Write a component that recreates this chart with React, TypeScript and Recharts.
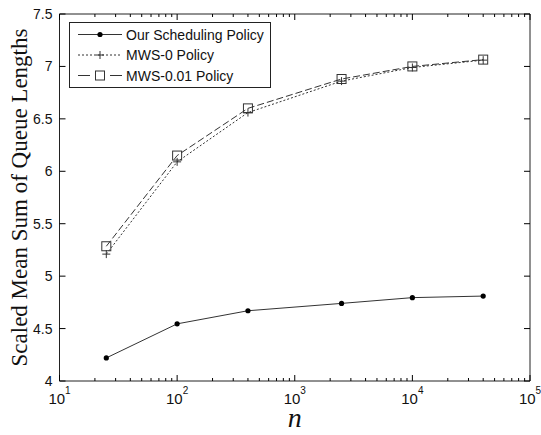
import { LineChart, Line, XAxis, YAxis, Legend, ReferenceArea } from 'recharts'

const nValues = [25, 100, 400, 2500, 10000, 40000]
const ourPolicy = [4.22, 4.545, 4.67, 4.74, 4.795, 4.81]
const mws0Policy = [5.21, 6.09, 6.56, 6.86, 6.99, 7.06]
const mws001Policy = [5.285, 6.15, 6.6, 6.88, 7.0, 7.065]

const decadeTicks = [10, 100, 1000, 10000, 100000]
const minorTicks = [10, 100, 1000, 10000].flatMap((d) => [2, 3, 4, 5, 6, 7, 8, 9].map((k) => d * k))
const xTicks = [...decadeTicks, ...minorTicks].sort((a, b) => a - b)
const yTicks = [4, 4.5, 5, 5.5, 6, 6.5, 7, 7.5]

const seriesNames = {
  our: 'Our Scheduling Policy',
  mws0: 'MWS-0 Policy',
  mws001: 'MWS-0.01 Policy',
}
const legendOrder = ['our', 'mws0', 'mws001']

const INK = '#222'
const LINE = '#333'
const SANS = '"Liberation Sans", Arial, sans-serif'
const SERIF = '"Liberation Serif", "Times New Roman", serif'
const X_DOMAIN = [10, 100000]
const Y_DOMAIN = [4, 7.5]

const data = nValues.map((n, i) => ({
  n,
  our: ourPolicy[i],
  mws0: mws0Policy[i],
  mws001: mws001Policy[i],
}))

// markers
const DotMark = ({ cx, cy }: any) => <circle cx={cx} cy={cy} r={2.6} fill="#000" />
const PlusMark = ({ cx, cy }: any) => (
  <g stroke={LINE} strokeWidth={1}>
    <line x1={cx - 4} x2={cx + 4} y1={cy} y2={cy} />
    <line x1={cx} x2={cx} y1={cy - 4} y2={cy + 4} />
  </g>
)
const SquareMark = ({ cx, cy }: any) => (
  <rect x={cx - 4.5} y={cy - 4.5} width={9} height={9} fill="none" stroke={LINE} strokeWidth={1} />
)

function DecadeLabel({ x, y, payload }: any) {
  return (
    <text x={x} y={y + 23} textAnchor="middle" fontFamily={SANS} fontSize={15} fill="#111">
      10
      <tspan dy={-10} fontSize={10}>
        {Math.round(Math.log10(payload.value))}
      </tspan>
    </text>
  )
}

function ValueLabel({ x, y, payload }: any) {
  return (
    <text x={x - 7} y={y} dy="0.36em" textAnchor="end" fontFamily={SANS} fontSize={14} fill="#111">
      {String(payload.value)}
    </text>
  )
}

// inward tick marks; x/y arrive on the frame edge because tickSize and tickMargin are 0
const tickLen = (v: number) => (decadeTicks.includes(v) ? 6 : 3)
const BottomMark = ({ x, y, payload }: any) => (
  <path d={`M${x},${y}V${y - tickLen(payload.value)}`} stroke="#000" strokeWidth={1} fill="none" />
)
const TopMark = ({ x, y, payload }: any) => (
  <path d={`M${x},${y}V${y + tickLen(payload.value)}`} stroke="#000" strokeWidth={1} fill="none" />
)
const LeftMark = ({ x, y }: any) => (
  <path d={`M${x},${y}H${x + 6}`} stroke="#000" strokeWidth={1} fill="none" />
)
const RightMark = ({ x, y }: any) => (
  <path d={`M${x},${y}H${x - 6}`} stroke="#000" strokeWidth={1} fill="none" />
)

function YTitle({ viewBox }: any) {
  const cy = viewBox.y + viewBox.height / 2
  return (
    <text
      transform={`translate(${viewBox.x + 27},${cy}) rotate(-90)`}
      textAnchor="middle"
      fontFamily={SERIF}
      fontSize={23}
      fill="#111"
    >
      Scaled Mean Sum of Queue Lengths
    </text>
  )
}

function XTitle({ viewBox }: any) {
  return (
    <text
      x={viewBox.x + viewBox.width / 2}
      y={viewBox.y + 46}
      textAnchor="middle"
      fontFamily={SERIF}
      fontStyle="italic"
      fontSize={28}
      fill="#111"
    >
      n
    </text>
  )
}

function LegendBox({ payload }: any) {
  const rows = [...(payload || [])].sort(
    (a: any, b: any) => legendOrder.indexOf(a.dataKey) - legendOrder.indexOf(b.dataKey)
  )
  return (
    <svg width={202} height={66} style={{ display: 'block' }}>
      <rect x={0.5} y={0.5} width={201} height={65} fill="#fff" stroke={INK} />
      {rows.map((entry: any, i: number) => {
        const cy = 12.5 + i * 20.5
        const key = entry.dataKey
        return (
          <g key={key}>
            {key === 'our' && (
              <>
                <line x1={9} x2={53} y1={cy} y2={cy} stroke={LINE} />
                <DotMark cx={31} cy={cy} />
              </>
            )}
            {key === 'mws0' && (
              <>
                <line x1={9} x2={53} y1={cy} y2={cy} stroke={LINE} strokeDasharray="2 2" />
                <PlusMark cx={31} cy={cy} />
              </>
            )}
            {key === 'mws001' && (
              <>
                <line x1={9} x2={21} y1={cy} y2={cy} stroke={LINE} />
                <line x1={41} x2={53} y1={cy} y2={cy} stroke={LINE} />
                <SquareMark cx={31} cy={cy} />
              </>
            )}
            <text x={57} y={cy} dy="0.36em" fontFamily={SANS} fontSize={14} fill="#111">
              {entry.value}
            </text>
          </g>
        )
      })}
    </svg>
  )
}

// mirrored axes sit inside the plot and take no room, one per side
const markAxis = {
  mirror: true,
  axisLine: false,
  tickLine: false,
  tickSize: 0,
  tickMargin: 0,
  interval: 0,
  allowDataOverflow: true,
  type: 'number' as const,
}

export default function App() {
  return (
    <div style={{ position: 'absolute', left: 0, top: 0, width: 541, height: 435, background: '#fff' }}>
      <LineChart width={541} height={435} data={data} margin={{ top: 14, right: 11, bottom: 0, left: 0 }}>
        <XAxis
          dataKey="n"
          type="number"
          scale="log"
          domain={X_DOMAIN}
          ticks={decadeTicks}
          interval={0}
          allowDataOverflow
          height={54}
          axisLine={false}
          tickLine={false}
          tickSize={0}
          tickMargin={0}
          tick={<DecadeLabel />}
          label={<XTitle />}
        />
        <YAxis
          type="number"
          domain={Y_DOMAIN}
          ticks={yTicks}
          interval={0}
          allowDataOverflow
          width={59.5}
          axisLine={false}
          tickLine={false}
          tickSize={0}
          tickMargin={0}
          tick={<ValueLabel />}
          label={<YTitle />}
        />
        <XAxis {...markAxis} xAxisId="bMarks" dataKey="n" scale="log" domain={X_DOMAIN} ticks={xTicks} height={8} tick={<BottomMark />} />
        <XAxis {...markAxis} xAxisId="tMarks" dataKey="n" scale="log" domain={X_DOMAIN} ticks={xTicks} orientation="top" height={8} tick={<TopMark />} />
        <YAxis {...markAxis} yAxisId="lMarks" domain={Y_DOMAIN} ticks={yTicks} width={8} tick={<LeftMark />} />
        <YAxis {...markAxis} yAxisId="rMarks" domain={Y_DOMAIN} ticks={yTicks} orientation="right" width={8} tick={<RightMark />} />
        {/* plot frame */}
        <ReferenceArea
          x1={10}
          x2={100000}
          y1={4}
          y2={7.5}
          fill="none"
          stroke={INK}
          strokeWidth={1}
          ifOverflow="visible"
        />
        <Legend
          layout="vertical"
          align="center"
          verticalAlign="middle"
          content={<LegendBox />}
          wrapperStyle={{ left: 69, top: 22, width: 202, height: 66 }}
        />
        <Line
          dataKey="mws0"
          name={seriesNames.mws0}
          stroke={LINE}
          strokeWidth={1}
          strokeDasharray="2 2"
          dot={<PlusMark />}
          activeDot={false}
          isAnimationActive={false}
        />
        <Line
          dataKey="mws001"
          name={seriesNames.mws001}
          stroke={LINE}
          strokeWidth={1}
          strokeDasharray="7 3"
          dot={<SquareMark />}
          activeDot={false}
          isAnimationActive={false}
        />
        <Line
          dataKey="our"
          name={seriesNames.our}
          stroke={LINE}
          strokeWidth={1}
          dot={<DotMark />}
          activeDot={false}
          isAnimationActive={false}
        />
      </LineChart>
    </div>
  )
}
